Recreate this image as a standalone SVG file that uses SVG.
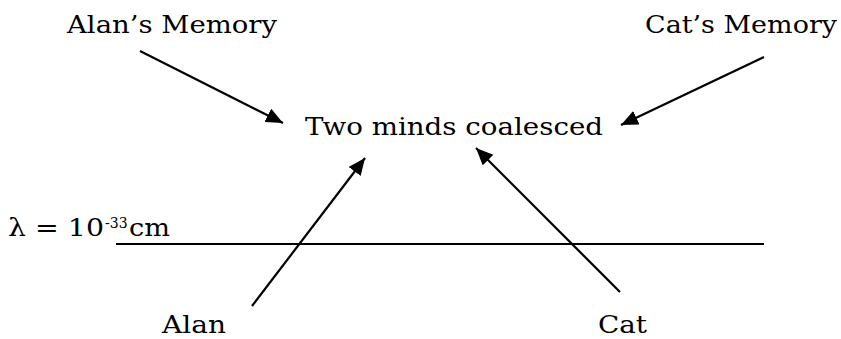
<svg xmlns="http://www.w3.org/2000/svg" width="841" height="339" viewBox="0 0 841 339">
<style>
text{font-family:"DejaVu Serif","Liberation Serif",serif;font-size:25px;fill:#000}
.c line{stroke:#000;stroke-width:2.2}
</style>
<defs>
<marker id="ah" markerUnits="userSpaceOnUse" markerWidth="18" markerHeight="16" refX="17" refY="7.5" orient="auto">
<path d="M0,0 L17,7.5 L0,15 z" fill="#000"/>
</marker>
</defs>
<rect width="841" height="339" fill="#fff"/>
<g id="alanmem"><text x="67" y="33" textLength="210" lengthAdjust="spacingAndGlyphs">Alan’s Memory</text></g>
<g id="catmem"><text x="645" y="33" textLength="192" lengthAdjust="spacingAndGlyphs">Cat’s Memory</text></g>
<g id="minds"><text x="305" y="135" textLength="298" lengthAdjust="spacingAndGlyphs">Two minds coalesced</text></g>
<g id="lambda">
<text y="236"><tspan x="8" textLength="96" lengthAdjust="spacingAndGlyphs">λ = 10</tspan><tspan x="105" y="228" font-size="14">-33</tspan><tspan x="129" y="236" textLength="41" lengthAdjust="spacingAndGlyphs">cm</tspan></text>
</g>
<g id="alan"><text x="162" y="333" textLength="64" lengthAdjust="spacingAndGlyphs">Alan</text></g>
<g id="cat"><text x="598" y="333" textLength="49" lengthAdjust="spacingAndGlyphs">Cat</text></g>
<g id="threshold" class="c"><line x1="116" y1="244" x2="764" y2="244"/></g>
<g id="connectors" class="c">
<line x1="140" y1="51" x2="283" y2="123" marker-end="url(#ah)"/>
<line x1="764" y1="57" x2="621" y2="125" marker-end="url(#ah)"/>
<line x1="252" y1="306" x2="365" y2="158" marker-end="url(#ah)"/>
<line x1="620" y1="292" x2="476" y2="148" marker-end="url(#ah)"/>
</g>
</svg>
